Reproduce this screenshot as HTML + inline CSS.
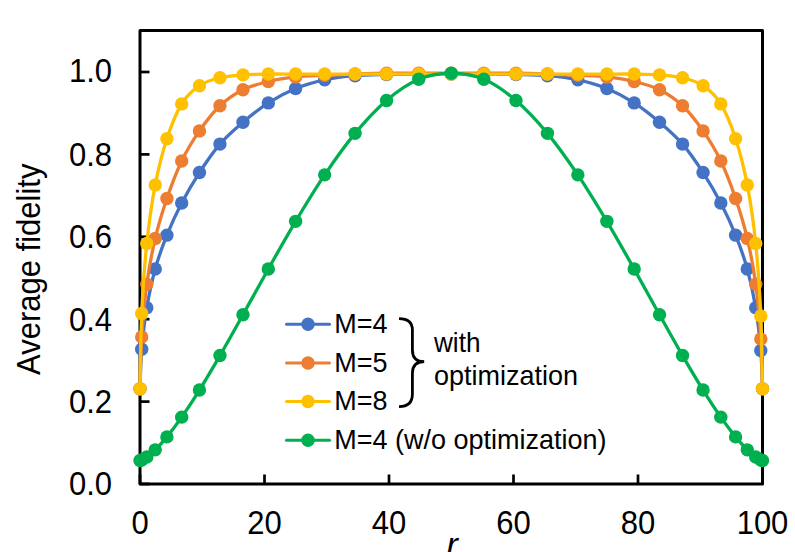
<!DOCTYPE html>
<html><head><meta charset="utf-8"><style>
html,body{margin:0;padding:0;background:#fff;width:795px;height:552px;overflow:hidden}
svg{display:block}
text{font-family:"Liberation Sans",sans-serif;fill:#000}
.tk{font-size:31px}
.lg{font-size:27px}
</style></head><body>
<svg width="795" height="552" viewBox="0 0 795 552">
<rect x="0" y="0" width="795" height="552" fill="#fff"/>
<g stroke="#000" stroke-width="2.7" fill="none">
<rect x="140" y="30.5" width="622.5" height="453.5" stroke-width="3" stroke-linejoin="round"/>
<line x1="140" y1="484.00" x2="149.5" y2="484.00"/>
<line x1="140" y1="401.60" x2="149.5" y2="401.60"/>
<line x1="140" y1="319.20" x2="149.5" y2="319.20"/>
<line x1="140" y1="236.80" x2="149.5" y2="236.80"/>
<line x1="140" y1="154.40" x2="149.5" y2="154.40"/>
<line x1="140" y1="72.00" x2="149.5" y2="72.00"/>
<line x1="140.00" y1="484" x2="140.00" y2="474.5"/>
<line x1="264.50" y1="484" x2="264.50" y2="474.5"/>
<line x1="389.00" y1="484" x2="389.00" y2="474.5"/>
<line x1="513.50" y1="484" x2="513.50" y2="474.5"/>
<line x1="638.00" y1="484" x2="638.00" y2="474.5"/>
<line x1="762.50" y1="484" x2="762.50" y2="474.5"/>
</g>
<g class="tk"><text transform="translate(112.1 495.30) scale(1 1.06)" text-anchor="end">0.0</text><text transform="translate(112.1 412.90) scale(1 1.06)" text-anchor="end">0.2</text><text transform="translate(112.1 330.50) scale(1 1.06)" text-anchor="end">0.4</text><text transform="translate(112.1 248.10) scale(1 1.06)" text-anchor="end">0.6</text><text transform="translate(112.1 165.70) scale(1 1.06)" text-anchor="end">0.8</text><text transform="translate(112.1 82.10) scale(1 1.06)" text-anchor="end">1.0</text><text transform="translate(140.00 533.9) scale(1 1.06)" text-anchor="middle">0</text><text transform="translate(264.50 533.9) scale(1 1.06)" text-anchor="middle">20</text><text transform="translate(389.00 533.9) scale(1 1.06)" text-anchor="middle">40</text><text transform="translate(513.50 533.9) scale(1 1.06)" text-anchor="middle">60</text><text transform="translate(638.00 533.9) scale(1 1.06)" text-anchor="middle">80</text><text transform="translate(762.50 533.9) scale(1 1.06)" text-anchor="middle">100</text></g>
<text class="tk" text-anchor="middle" transform="translate(39.8 269.25) rotate(-90) scale(1 1.054)">Average fidelity</text>
<text x="446.5" y="555.5" style="font-size:34px;font-style:italic">r</text>
<path d="M140.00,388.83 C140.28,382.24 140.57,362.80 141.71,349.28 C142.84,335.75 144.55,321.05 146.80,307.66 C149.06,294.27 151.88,281.02 155.23,268.94 C158.58,256.85 162.50,246.14 166.91,235.15 C171.32,224.17 176.28,213.45 181.70,203.02 C187.12,192.58 193.07,182.35 199.44,172.53 C205.82,162.71 212.69,152.48 219.95,144.10 C227.20,135.72 234.92,129.13 242.98,122.26 C251.04,115.40 259.53,108.53 268.30,102.90 C277.08,97.27 286.23,92.33 295.62,88.48 C305.02,84.63 314.75,81.96 324.65,79.83 C334.56,77.70 344.75,76.60 355.07,75.71 C365.38,74.82 375.93,74.75 386.54,74.47 C397.15,74.20 407.93,74.13 418.72,74.06 C429.50,73.99 440.41,74.06 451.25,74.06 C462.09,74.06 473.00,73.99 483.78,74.06 C494.57,74.13 505.35,74.20 515.96,74.47 C526.57,74.75 537.12,74.82 547.43,75.71 C557.75,76.60 567.94,77.70 577.85,79.83 C587.75,81.96 597.48,84.63 606.87,88.48 C616.27,92.33 625.42,97.27 634.20,102.90 C642.97,108.53 651.46,115.40 659.52,122.26 C667.58,129.13 675.30,135.72 682.55,144.10 C689.81,152.48 696.68,162.71 703.06,172.53 C709.43,182.35 715.38,192.58 720.80,203.02 C726.22,213.45 731.18,224.17 735.59,235.15 C740.00,246.14 743.92,256.85 747.27,268.94 C750.62,281.02 753.44,294.07 755.70,307.66 C757.95,321.26 759.66,336.98 760.79,350.51 C761.93,364.04 762.22,382.44 762.50,388.83" fill="none" stroke="#4472C4" stroke-width="3.3" stroke-linejoin="round"/>
<g fill="#4472C4"><circle cx="140.00" cy="388.83" r="6.7"/><circle cx="141.71" cy="349.28" r="6.7"/><circle cx="146.80" cy="307.66" r="6.7"/><circle cx="155.23" cy="268.94" r="6.7"/><circle cx="166.91" cy="235.15" r="6.7"/><circle cx="181.70" cy="203.02" r="6.7"/><circle cx="199.44" cy="172.53" r="6.7"/><circle cx="219.95" cy="144.10" r="6.7"/><circle cx="242.98" cy="122.26" r="6.7"/><circle cx="268.30" cy="102.90" r="6.7"/><circle cx="295.62" cy="88.48" r="6.7"/><circle cx="324.65" cy="79.83" r="6.7"/><circle cx="355.07" cy="75.71" r="6.7"/><circle cx="386.54" cy="74.47" r="6.7"/><circle cx="418.72" cy="74.06" r="6.7"/><circle cx="451.25" cy="74.06" r="6.7"/><circle cx="483.78" cy="74.06" r="6.7"/><circle cx="515.96" cy="74.47" r="6.7"/><circle cx="547.43" cy="75.71" r="6.7"/><circle cx="577.85" cy="79.83" r="6.7"/><circle cx="606.87" cy="88.48" r="6.7"/><circle cx="634.20" cy="102.90" r="6.7"/><circle cx="659.52" cy="122.26" r="6.7"/><circle cx="682.55" cy="144.10" r="6.7"/><circle cx="703.06" cy="172.53" r="6.7"/><circle cx="720.80" cy="203.02" r="6.7"/><circle cx="735.59" cy="235.15" r="6.7"/><circle cx="747.27" cy="268.94" r="6.7"/><circle cx="755.70" cy="307.66" r="6.7"/><circle cx="760.79" cy="350.51" r="6.7"/><circle cx="762.50" cy="388.83" r="6.7"/></g>
<path d="M140.00,388.83 C140.28,380.18 140.57,354.36 141.71,336.92 C142.84,319.47 144.55,300.59 146.80,284.18 C149.06,267.77 151.88,252.73 155.23,238.45 C158.58,224.17 162.50,211.39 166.91,198.48 C171.32,185.57 176.28,172.25 181.70,160.99 C187.12,149.73 193.07,140.12 199.44,130.92 C205.82,121.71 212.69,112.65 219.95,105.78 C227.20,98.92 234.92,93.77 242.98,89.72 C251.04,85.66 259.53,83.60 268.30,81.48 C277.08,79.35 286.23,77.97 295.62,76.94 C305.02,75.91 314.75,75.78 324.65,75.30 C334.56,74.82 344.75,74.40 355.07,74.06 C365.38,73.72 375.93,73.37 386.54,73.24 C397.15,73.10 407.93,73.24 418.72,73.24 C429.50,73.24 440.41,73.24 451.25,73.24 C462.09,73.24 473.00,73.24 483.78,73.24 C494.57,73.24 505.35,73.10 515.96,73.24 C526.57,73.37 537.12,73.72 547.43,74.06 C557.75,74.40 567.94,74.82 577.85,75.30 C587.75,75.78 597.48,75.91 606.87,76.94 C616.27,77.97 625.42,79.35 634.20,81.48 C642.97,83.60 651.46,85.66 659.52,89.72 C667.58,93.77 675.30,98.92 682.55,105.78 C689.81,112.65 696.68,121.71 703.06,130.92 C709.43,140.12 715.38,149.73 720.80,160.99 C726.22,172.25 731.18,185.57 735.59,198.48 C740.00,211.39 743.92,224.17 747.27,238.45 C750.62,252.73 753.44,267.43 755.70,284.18 C757.95,300.93 759.66,321.53 760.79,338.98 C761.93,356.42 762.22,380.52 762.50,388.83" fill="none" stroke="#ED7D31" stroke-width="3.3" stroke-linejoin="round"/>
<g fill="#ED7D31"><circle cx="140.00" cy="388.83" r="6.7"/><circle cx="141.71" cy="336.92" r="6.7"/><circle cx="146.80" cy="284.18" r="6.7"/><circle cx="155.23" cy="238.45" r="6.7"/><circle cx="166.91" cy="198.48" r="6.7"/><circle cx="181.70" cy="160.99" r="6.7"/><circle cx="199.44" cy="130.92" r="6.7"/><circle cx="219.95" cy="105.78" r="6.7"/><circle cx="242.98" cy="89.72" r="6.7"/><circle cx="268.30" cy="81.48" r="6.7"/><circle cx="295.62" cy="76.94" r="6.7"/><circle cx="324.65" cy="75.30" r="6.7"/><circle cx="355.07" cy="74.06" r="6.7"/><circle cx="386.54" cy="73.24" r="6.7"/><circle cx="418.72" cy="73.24" r="6.7"/><circle cx="451.25" cy="73.24" r="6.7"/><circle cx="483.78" cy="73.24" r="6.7"/><circle cx="515.96" cy="73.24" r="6.7"/><circle cx="547.43" cy="74.06" r="6.7"/><circle cx="577.85" cy="75.30" r="6.7"/><circle cx="606.87" cy="76.94" r="6.7"/><circle cx="634.20" cy="81.48" r="6.7"/><circle cx="659.52" cy="89.72" r="6.7"/><circle cx="682.55" cy="105.78" r="6.7"/><circle cx="703.06" cy="130.92" r="6.7"/><circle cx="720.80" cy="160.99" r="6.7"/><circle cx="735.59" cy="198.48" r="6.7"/><circle cx="747.27" cy="238.45" r="6.7"/><circle cx="755.70" cy="284.18" r="6.7"/><circle cx="760.79" cy="338.98" r="6.7"/><circle cx="762.50" cy="388.83" r="6.7"/></g>
<path d="M140.00,388.83 C140.28,376.26 140.57,337.67 141.71,313.43 C142.84,289.19 144.55,264.82 146.80,243.39 C149.06,221.97 151.88,202.33 155.23,184.89 C158.58,167.45 162.50,152.24 166.91,138.74 C171.32,125.24 176.28,112.73 181.70,103.89 C187.12,95.05 193.07,90.07 199.44,85.72 C205.82,81.37 212.69,79.57 219.95,77.77 C227.20,75.96 234.92,75.50 242.98,74.88 C251.04,74.27 259.53,74.20 268.30,74.06 C277.08,73.92 286.23,74.06 295.62,74.06 C305.02,74.06 314.75,74.06 324.65,74.06 C334.56,74.06 344.75,74.06 355.07,74.06 C365.38,74.06 375.93,74.06 386.54,74.06 C397.15,74.06 407.93,74.06 418.72,74.06 C429.50,74.06 440.41,74.06 451.25,74.06 C462.09,74.06 473.00,74.06 483.78,74.06 C494.57,74.06 505.35,74.06 515.96,74.06 C526.57,74.06 537.12,74.06 547.43,74.06 C557.75,74.06 567.94,74.06 577.85,74.06 C587.75,74.06 597.48,74.06 606.87,74.06 C616.27,74.06 625.42,73.92 634.20,74.06 C642.97,74.20 651.46,74.27 659.52,74.88 C667.58,75.50 675.30,75.96 682.55,77.77 C689.81,79.57 696.68,81.37 703.06,85.72 C709.43,90.07 715.38,95.05 720.80,103.89 C726.22,112.73 731.18,125.24 735.59,138.74 C740.00,152.24 743.92,167.45 747.27,184.89 C750.62,202.33 753.44,221.56 755.70,243.39 C757.95,265.23 759.66,291.66 760.79,315.90 C761.93,340.14 762.22,376.67 762.50,388.83" fill="none" stroke="#FFC000" stroke-width="3.3" stroke-linejoin="round"/>
<g fill="#FFC000"><circle cx="140.00" cy="388.83" r="6.7"/><circle cx="141.71" cy="313.43" r="6.7"/><circle cx="146.80" cy="243.39" r="6.7"/><circle cx="155.23" cy="184.89" r="6.7"/><circle cx="166.91" cy="138.74" r="6.7"/><circle cx="181.70" cy="103.89" r="6.7"/><circle cx="199.44" cy="85.72" r="6.7"/><circle cx="219.95" cy="77.77" r="6.7"/><circle cx="242.98" cy="74.88" r="6.7"/><circle cx="268.30" cy="74.06" r="6.7"/><circle cx="295.62" cy="74.06" r="6.7"/><circle cx="324.65" cy="74.06" r="6.7"/><circle cx="355.07" cy="74.06" r="6.7"/><circle cx="386.54" cy="74.06" r="6.7"/><circle cx="418.72" cy="74.06" r="6.7"/><circle cx="451.25" cy="74.06" r="6.7"/><circle cx="483.78" cy="74.06" r="6.7"/><circle cx="515.96" cy="74.06" r="6.7"/><circle cx="547.43" cy="74.06" r="6.7"/><circle cx="577.85" cy="74.06" r="6.7"/><circle cx="606.87" cy="74.06" r="6.7"/><circle cx="634.20" cy="74.06" r="6.7"/><circle cx="659.52" cy="74.88" r="6.7"/><circle cx="682.55" cy="77.77" r="6.7"/><circle cx="703.06" cy="85.72" r="6.7"/><circle cx="720.80" cy="103.89" r="6.7"/><circle cx="735.59" cy="138.74" r="6.7"/><circle cx="747.27" cy="184.89" r="6.7"/><circle cx="755.70" cy="243.39" r="6.7"/><circle cx="760.79" cy="315.90" r="6.7"/><circle cx="762.50" cy="388.83" r="6.7"/></g>
<path d="M140.00,460.52 C140.28,460.43 140.57,460.59 141.71,460.02 C142.84,459.44 144.55,458.75 146.80,457.06 C149.06,455.36 151.88,453.19 155.23,449.83 C158.58,446.46 162.50,442.33 166.91,436.88 C171.32,431.43 176.28,424.94 181.70,417.13 C187.12,409.32 193.07,400.27 199.44,390.01 C205.82,379.75 212.69,368.13 219.95,355.57 C227.20,343.02 234.92,329.09 242.98,314.68 C251.04,300.26 259.53,284.62 268.30,269.07 C277.08,253.51 286.23,237.06 295.62,221.36 C305.02,205.66 314.75,189.54 324.65,174.87 C334.56,160.20 344.75,145.75 355.07,133.34 C365.38,120.94 375.93,109.45 386.54,100.44 C397.15,91.44 407.93,83.83 418.72,79.30 C429.50,74.76 440.41,73.24 451.25,73.24 C462.09,73.24 473.00,74.76 483.78,79.30 C494.57,83.83 505.35,91.44 515.96,100.44 C526.57,109.45 537.12,120.94 547.43,133.34 C557.75,145.75 567.94,160.20 577.85,174.87 C587.75,189.54 597.48,205.66 606.87,221.36 C616.27,237.06 625.42,253.51 634.20,269.07 C642.97,284.62 651.46,300.26 659.52,314.68 C667.58,329.09 675.30,343.02 682.55,355.57 C689.81,368.13 696.68,379.75 703.06,390.01 C709.43,400.27 715.38,409.32 720.80,417.13 C726.22,424.94 731.18,431.43 735.59,436.88 C740.00,442.33 743.92,446.46 747.27,449.83 C750.62,453.19 753.44,455.36 755.70,457.06 C757.95,458.75 759.66,459.44 760.79,460.02 C761.93,460.59 762.22,460.43 762.50,460.52" fill="none" stroke="#00B050" stroke-width="3.3" stroke-linejoin="round"/>
<g fill="#00B050"><circle cx="140.00" cy="460.52" r="6.7"/><circle cx="141.71" cy="460.02" r="6.7"/><circle cx="146.80" cy="457.06" r="6.7"/><circle cx="155.23" cy="449.83" r="6.7"/><circle cx="166.91" cy="436.88" r="6.7"/><circle cx="181.70" cy="417.13" r="6.7"/><circle cx="199.44" cy="390.01" r="6.7"/><circle cx="219.95" cy="355.57" r="6.7"/><circle cx="242.98" cy="314.68" r="6.7"/><circle cx="268.30" cy="269.07" r="6.7"/><circle cx="295.62" cy="221.36" r="6.7"/><circle cx="324.65" cy="174.87" r="6.7"/><circle cx="355.07" cy="133.34" r="6.7"/><circle cx="386.54" cy="100.44" r="6.7"/><circle cx="418.72" cy="79.30" r="6.7"/><circle cx="451.25" cy="73.24" r="6.7"/><circle cx="483.78" cy="79.30" r="6.7"/><circle cx="515.96" cy="100.44" r="6.7"/><circle cx="547.43" cy="133.34" r="6.7"/><circle cx="577.85" cy="174.87" r="6.7"/><circle cx="606.87" cy="221.36" r="6.7"/><circle cx="634.20" cy="269.07" r="6.7"/><circle cx="659.52" cy="314.68" r="6.7"/><circle cx="682.55" cy="355.57" r="6.7"/><circle cx="703.06" cy="390.01" r="6.7"/><circle cx="720.80" cy="417.13" r="6.7"/><circle cx="735.59" cy="436.88" r="6.7"/><circle cx="747.27" cy="449.83" r="6.7"/><circle cx="755.70" cy="457.06" r="6.7"/><circle cx="760.79" cy="460.02" r="6.7"/><circle cx="762.50" cy="460.52" r="6.7"/></g>
<line x1="286.5" y1="324.3" x2="329.5" y2="324.3" stroke="#4472C4" stroke-width="3.0" stroke-linecap="round"/>
<circle cx="308" cy="324.3" r="6.7" fill="#4472C4"/>
<text transform="translate(334.3 332.9) scale(1 1.05)" class="lg">M=4</text>
<line x1="286.5" y1="363.0" x2="329.5" y2="363.0" stroke="#ED7D31" stroke-width="3.0" stroke-linecap="round"/>
<circle cx="308" cy="363.0" r="6.7" fill="#ED7D31"/>
<text transform="translate(334.3 371.6) scale(1 1.05)" class="lg">M=5</text>
<line x1="286.5" y1="401.5" x2="329.5" y2="401.5" stroke="#FFC000" stroke-width="3.0" stroke-linecap="round"/>
<circle cx="308" cy="401.5" r="6.7" fill="#FFC000"/>
<text transform="translate(334.3 410.1) scale(1 1.05)" class="lg">M=8</text>
<line x1="286.5" y1="440.2" x2="329.5" y2="440.2" stroke="#00B050" stroke-width="3.0" stroke-linecap="round"/>
<circle cx="308" cy="440.2" r="6.7" fill="#00B050"/>
<text transform="translate(334.3 448.8) scale(1 1.05)" class="lg">M=4 (w/o optimization)</text>
<path d="M399,318.6 C408,318.6 412.4,322 412.4,330 L412.4,350 C412.4,358 416,361.7 424.2,361.7 C416,361.7 412.4,365.5 412.4,373.5 L412.4,394 C412.4,402 408,406.6 399,406.6" fill="none" stroke="#000" stroke-width="2.8"/>
<text transform="translate(434 351.6) scale(0.968 1.04)" class="lg">with</text>
<text transform="translate(434 384.8) scale(1 1.04)" class="lg">optimization</text>
</svg>
</body></html>
